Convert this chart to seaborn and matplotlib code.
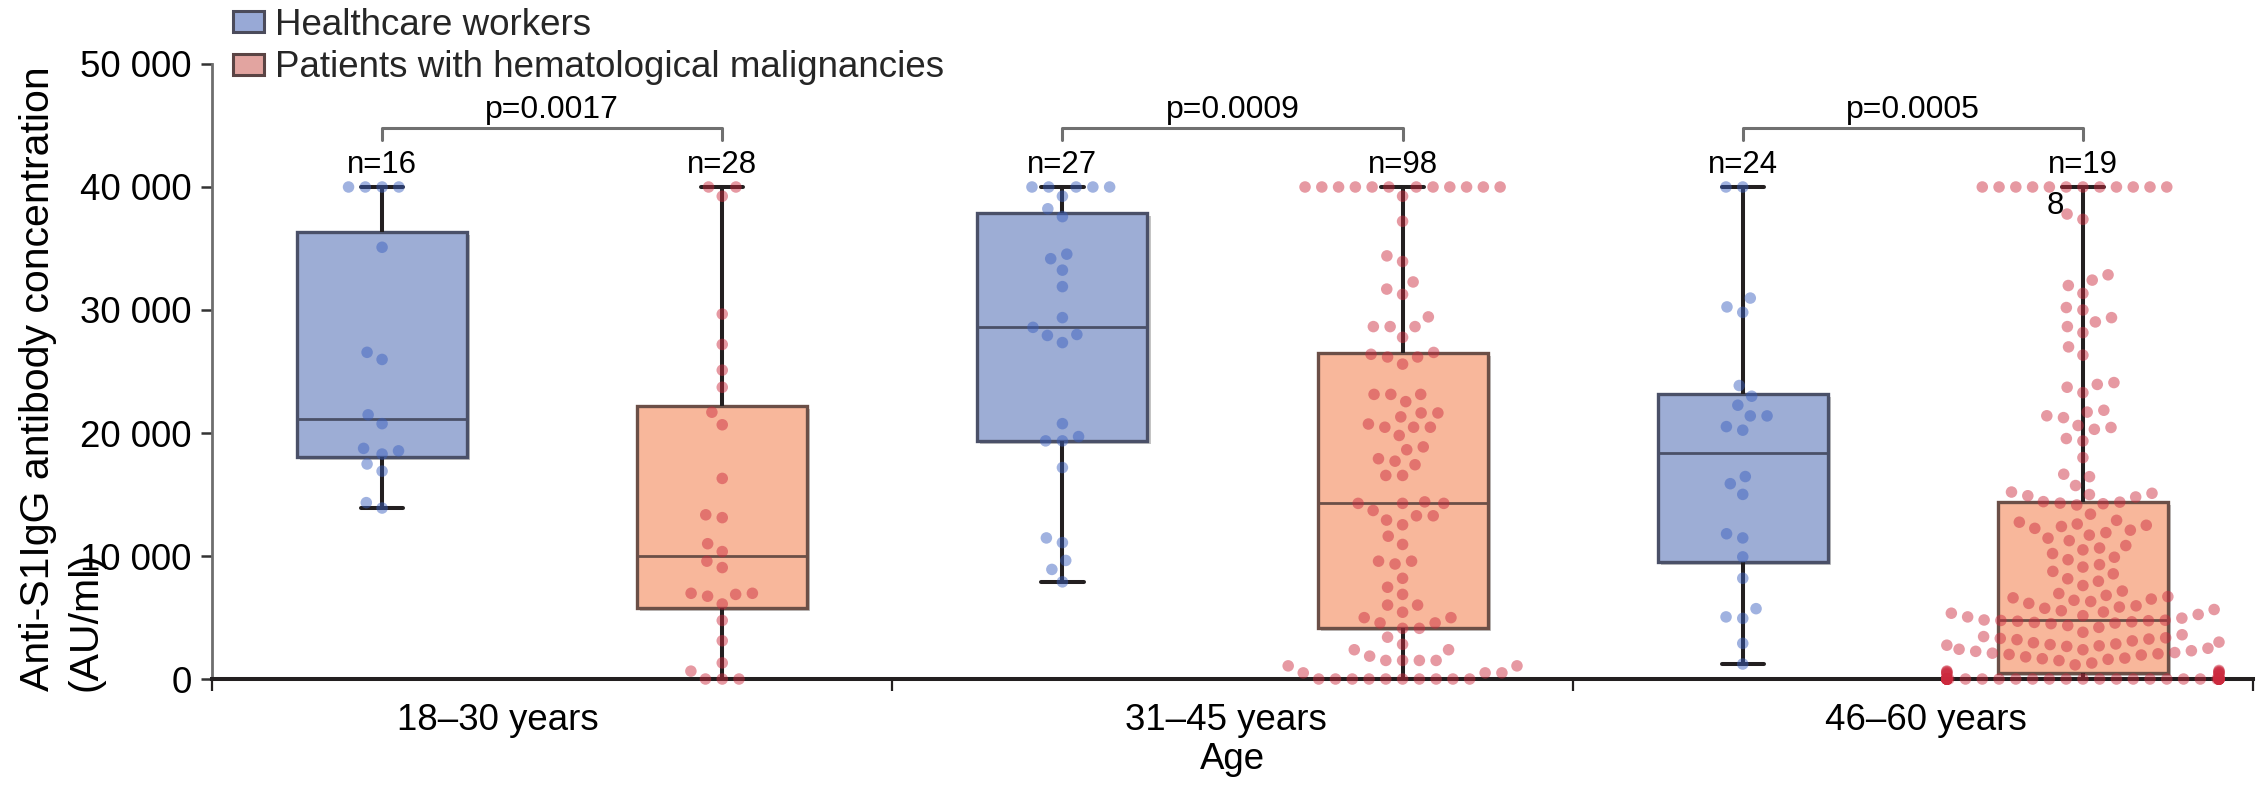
import matplotlib
matplotlib.use("Agg")
import matplotlib.pyplot as plt
import matplotlib.patheffects as pe
from matplotlib.patches import Patch
from matplotlib.ticker import FuncFormatter
import pandas as pd
import seaborn as sns

age_groups = ["18–30 years", "31–45 years", "46–60 years"]
groups = ["Healthcare workers", "Patients with hematological malignancies"]
p_values = ["p=0.0017", "p=0.0009", "p=0.0005"]
n_labels = [["n=16", "n=28"], ["n=27", "n=98"], ["n=24", "n=19"]]

# anti-S1 IgG (AU/ml)
hcw_18_30 = [40000, 40000, 40000, 40000, 35100, 26560, 25980, 21480, 20760, 18750,
             18550, 18290, 17480, 16900, 14340, 13900]
pat_18_30 = [40000, 40000, 39250, 29670, 27200, 25110, 23720, 21690, 20670, 16310,
             13350, 13120, 11000, 10360, 9580, 9060, 6970, 6970, 6880, 6730,
             6100, 4760, 3110, 1310, 640, 0, 0, 0]
hcw_31_45 = [40000, 40000, 40000, 40000, 40000, 39250, 38230, 37590, 34540, 34170,
             33240, 31900, 29380, 28590, 28010, 27930, 27350, 20760, 19710, 19360,
             19360, 17190, 11470, 11090, 9640, 8910, 7900]
pat_31_45 = [40000, 40000, 40000, 40000, 40000, 40000, 40000, 40000, 40000, 40000,
             40000, 40000, 39250, 37210, 34400, 33940, 32280, 31700, 31270, 29440,
             28650, 28650, 28650, 27780, 26550, 26400, 26180, 26180, 25600, 23140,
             23140, 23140, 22550, 21630, 21630, 21310, 20730, 20470, 20470, 20470,
             19800, 18870, 18640, 17910, 17710, 17420, 16550, 16550, 14400, 14280,
             14280, 14280, 13700, 13270, 13270, 12920, 12540, 11610, 10940, 9580,
             9580, 9350, 8190, 7460, 6880, 6010, 6010, 5430, 4990, 4990,
             4560, 4560, 4120, 4120, 3400, 2820, 2380, 2380, 1860, 1510,
             1510, 1510, 1510, 1070, 1070, 500, 500, 500, 0, 0,
             0, 0, 0, 0, 0, 0, 0, 0]
hcw_46_60 = [40000, 40000, 30970, 30250, 29810, 23860, 22990, 22260, 21390, 21390,
             20520, 20230, 16460, 15880, 15010, 11810, 11470, 9930, 8190, 5720,
             5050, 4930, 2900, 1220]
pat_46_60 = [40000, 40000, 40000, 40000, 40000, 40000, 40000, 40000, 40000, 40000,
             40000, 40000, 37800, 37370, 32860, 32430, 31990, 31350, 30200, 30000,
             29380, 29030, 28650, 28160, 27000, 26330, 24100, 23950, 23720, 23280,
             21850, 21700, 21400, 21250, 20610, 20450, 20300, 19550, 19350, 18000,
             16650, 16450, 15730, 15200, 15100, 15000, 14900, 14800,
             14420, 14380, 14300, 14250, 14150, 13400, 12900, 12750, 12600, 12500,
             12400, 12250, 12100, 11900, 11700, 11450, 11250, 10850, 10650, 10500,
             10200, 9900, 9700, 9300, 9100, 8750, 8550, 8150, 7950, 7600,
             7150, 6950, 6800, 6700, 6600, 6500, 6400, 6300, 6150, 5950,
             5850, 5750, 5650, 5550, 5450, 5350, 5250, 5150, 5050, 4950,
             4800, 4780, 4760, 4740, 4700, 4650, 4600, 4550, 4500, 4350,
             4200, 3800, 3600, 3450, 3350, 3300, 3250, 3200, 3100, 3000,
             2950, 2850, 2800, 2750, 2700, 2650, 2500, 2420, 2380, 2300,
             2250, 2150, 2100, 2050, 2000, 1950, 1800, 1700, 1650, 1600,
             1500, 1300, 1150, 700, 650, 620, 600, 560, 530, 500,
             450, 400, 350, 300,
             0, 0, 0, 0, 0, 0, 0, 0, 0, 0, 0, 0, 0, 0, 0, 0, 0, 0, 0, 0,
             0, 0, 0, 0, 0, 0, 0, 0, 0, 0, 0, 0, 0, 0, 0, 0, 0, 0, 0, 0,
             0, 0, 0, 0, 0, 0]

values = {
    (0, groups[0]): hcw_18_30, (0, groups[1]): pat_18_30,
    (1, groups[0]): hcw_31_45, (1, groups[1]): pat_31_45,
    (2, groups[0]): hcw_46_60, (2, groups[1]): pat_46_60,
}

shift = {groups[0]: -0.25, groups[1]: 0.25}
rows = []
for (i, g), vals in values.items():
    for v in vals:
        rows.append({"age": age_groups[i], "group": g, "pos": i + shift[g], "value": v})
df = pd.DataFrame(rows)

sns.set_theme(style="ticks")
plt.rcParams["font.family"] = ["Liberation Sans", "DejaVu Sans"]

fig = plt.figure(figsize=(22.65, 7.88), dpi=100)
ax = fig.add_axes([0.0936, 0.1383, 0.9011, 0.7805])

box_fill = {groups[0]: "#9DADD5", groups[1]: "#F8B79B"}
box_edge = {groups[0]: "#4A5068", groups[1]: "#6B4F47"}
dot_col = {groups[0]: "#3A5FBF", groups[1]: "#CC2A3E"}

for g in groups:
    sns.boxplot(data=df[df.group == g], x="pos", y="value", native_scale=True,
                width=0.25, whis=(0, 100), color=box_fill[g], saturation=1,
                linecolor=box_edge[g], linewidth=2.4, fliersize=0,
                whiskerprops=dict(color="#231F20", linewidth=2.9),
                capprops=dict(color="#231F20", linewidth=2.9),
                medianprops=dict(color=box_edge[g], linewidth=2),
                ax=ax)

# caps are narrower than the seaborn default
for ln in ax.lines:
    xd, yd = ln.get_xdata(), ln.get_ydata()
    if len(xd) == 2 and yd[0] == yd[1] and abs(xd[1] - xd[0]) < 0.2:
        c = (xd[0] + xd[1]) / 2
        ln.set_xdata([c - 0.031, c + 0.031])

for p in ax.patches:
    p.set_path_effects([pe.SimplePatchShadow(offset=(2.2, -2.2), shadow_rgbFace="#C4C4C4", alpha=1.0),
                        pe.Normal()])

# linewidth only widens the swarm spacing, the edge itself is invisible
sns.swarmplot(data=df, x="pos", y="value", hue="group", palette=dot_col,
              native_scale=True, size=8.3, linewidth=3.2, edgecolor="none",
              alpha=0.48, legend=False, zorder=3, clip_on=False, ax=ax)

ax.set_xlim(-0.5, 2.5)
ax.set_ylim(0, 50000)
ax.set_yticks(range(0, 50001, 10000))
ax.yaxis.set_major_formatter(FuncFormatter(lambda v, _: f"{int(v):,}".replace(",", " ")))
ax.set_xticks([-0.5, 0.5, 1.5, 2.5])
ax.set_xticklabels([])
ax.set_xticks([-0.08, 0.99, 2.02], minor=True)
ax.set_xticklabels(age_groups, minor=True)

sns.despine(ax=ax)
ax.spines["left"].set_color("#6E6E6E")
ax.spines["left"].set_linewidth(2)
ax.spines["bottom"].set_color("#231F20")
ax.spines["bottom"].set_linewidth(2.9)
ax.tick_params(axis="y", length=8, width=1.8, color="#333333", labelsize=26.4, pad=6.5,
               labelcolor="black")
ax.tick_params(axis="x", which="major", length=8.6, width=1.6, color="#231F20")
ax.tick_params(axis="x", which="minor", length=0, labelsize=26.4, pad=17, labelcolor="black")

ax.set_xlabel("Age", fontsize=26.4, labelpad=3, color="black")
# two-line y label, second line sits next to the tick labels as in the source
ax.set_ylabel("Anti-S1IgG antibody concentration", fontsize=29.5, ha="left", color="black")
ax.yaxis.set_label_coords(-0.0759, -0.0195)
ax.text(-0.0529, -0.0195, "(AU/ml)", transform=ax.transAxes, rotation=90,
        rotation_mode="anchor", ha="left", va="bottom", fontsize=29.5, color="black")

for i in range(3):
    x1, x2 = i - 0.25, i + 0.25
    ax.plot([x1, x1, x2, x2], [43800, 44800, 44800, 43800], color="#707070", lw=2.2,
            clip_on=False, zorder=4)
    ax.text(i, 45600, p_values[i], ha="center", va="baseline", fontsize=23, color="black")
    ax.text(x1, 41100, n_labels[i][0], ha="center", va="baseline", fontsize=22.4, color="black")
    ax.text(x2, 41100, n_labels[i][1], ha="center", va="baseline", fontsize=22.4, color="black")
# the last label wraps its final digit
ax.text(2.25 - 0.0535, 37800, "8", ha="left", va="baseline", fontsize=22.4, color="black", zorder=5)

handles = [Patch(facecolor="#98A9D6", edgecolor="#4B4B5B", linewidth=2.2, label=groups[0]),
           Patch(facecolor="#E2A4A0", edgecolor="#5A4444", linewidth=2.2, label=groups[1])]
ax.legend(handles=handles, loc="upper left", bbox_to_anchor=(233 / 2265, 1 - 8 / 788),
          bbox_transform=fig.transFigure, frameon=False, fontsize=26.5, borderpad=0,
          borderaxespad=0, labelspacing=0.2, handlelength=0.85, handleheight=0.5,
          handletextpad=0.3)

fig.savefig("out.png", dpi=100)
